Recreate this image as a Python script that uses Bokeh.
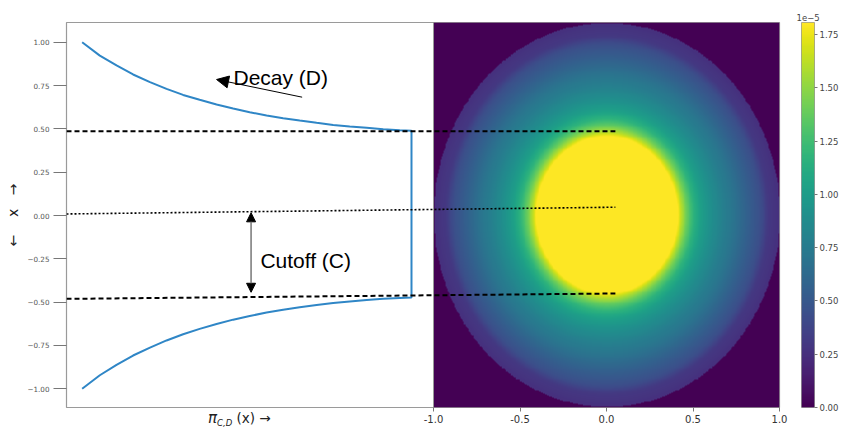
import numpy as np
from bokeh.plotting import figure
from bokeh.models import (Range1d, LinearAxis, FixedTicker, Label, Arrow,
                          NormalHead, LinearColorMapper, Div)
from bokeh.palettes import Viridis256
from bokeh.layouts import row
from bokeh.embed import file_html
from bokeh.resources import INLINE

# ---------------- data ----------------
# left panel: pi_{C,D}(x) curve (horizontal = pi value, relative; vertical = x)
curve_pi = [0.0454, 0.0966, 0.145, 0.193, 0.242, 0.290, 0.338, 0.386, 0.435, 0.483, 0.531,
            0.580, 0.628, 0.676, 0.725, 0.773, 0.821, 0.870, 0.918, 0.966, 1.0]
curve_x_upper = [1.0, 0.923, 0.866, 0.814, 0.770, 0.731, 0.696, 0.668, 0.641, 0.618, 0.596,
                 0.577, 0.562, 0.548, 0.535, 0.523, 0.514, 0.506, 0.498, 0.492, 0.489]
curve_x_lower = [-1.0, -0.922, -0.862, -0.808, -0.762, -0.721, -0.685, -0.654, -0.626, -0.601,
                 -0.580, -0.560, -0.544, -0.530, -0.517, -0.505, -0.496, -0.488, -0.481,
                 -0.476, -0.473]

y_ticks = [-1.0, -0.75, -0.5, -0.25, 0.0, 0.25, 0.5, 0.75, 1.0]
y_tick_labels = ["\u22121.00", "\u22120.75", "\u22120.50", "\u22120.25", "0.00",
                 "0.25", "0.50", "0.75", "1.00"]

# guide lines (pi units, x units)
guide_pi = [0.0, 1.591]
cut_upper_y = [0.487, 0.487]
center_y = [0.009, 0.048]
cut_lower_y = [-0.481, -0.450]

# heatmap: radial profile (r, value in 1e-5)
profile_r = [0.0, 0.41, 0.43, 0.46, 0.50, 0.54, 0.58, 0.66, 0.735, 0.81, 0.89, 0.93, 1.0]
profile_v = [1.807, 1.807, 1.62, 1.40, 1.17, 1.03, 0.94, 0.80, 0.69, 0.56, 0.43, 0.30, 0.25]
heat_ticks = [-1.0, -0.5, 0.0, 0.5, 1.0]
heat_tick_labels = ["-1.0", "-0.5", "0.0", "0.5", "1.0"]

cbar_max = 1.807
cbar_ticks = [0.0, 0.25, 0.5, 0.75, 1.0, 1.25, 1.5, 1.75]
cbar_tick_labels = ["0.00", "0.25", "0.50", "0.75", "1.00", "1.25", "1.50", "1.75"]

# ---------------- main figure ----------------
p = figure(width=790, height=430, output_backend="svg", toolbar_location=None,
           x_range=Range1d(0, 2.0667), y_range=Range1d(-1.108, 1.114),
           x_axis_type=None, y_axis_type=None,
           min_border_left=66, min_border_right=11, min_border_top=22, min_border_bottom=23)
p.extra_x_ranges = {"heat": Range1d(-3.1214, 1.0)}
p.extra_y_ranges = {"heat_y": Range1d(-1.0, 1.0)}
p.grid.visible = False
p.outline_line_color = "#9a9a9a"
p.outline_line_width = 1.2
p.background_fill_color = "white"
p.border_fill_color = "white"

mapper = LinearColorMapper(palette=Viridis256, low=0.0, high=cbar_max)

# heatmap image
n = 420
gx = np.linspace(-1, 1, n)
GX, GY = np.meshgrid(gx, gx)
R = np.sqrt(GX ** 2 + GY ** 2)
Z = np.interp(R, profile_r, profile_v)
Z[R > 1.0] = 0.0
p.image(image=[Z], x=-1, y=-1, dw=2, dh=2, color_mapper=mapper,
        x_range_name="heat", y_range_name="heat_y")
p.segment(x0=[-1], y0=[-1], x1=[-1], y1=[1], line_color="#9a9a9a", line_width=1,
          x_range_name="heat", y_range_name="heat_y")

# curve
xs = curve_pi + curve_pi[::-1]
ys = curve_x_upper + curve_x_lower[::-1]
p.line(xs, ys, line_color="#2f86c6", line_width=2)

# guide lines
p.line(guide_pi, cut_upper_y, line_color="black", line_width=2, line_dash="5 3")
p.line(guide_pi, cut_lower_y, line_color="black", line_width=2, line_dash="5 3")
p.line(guide_pi, center_y, line_color="black", line_width=1.6, line_dash="2 2")

# annotations
p.add_layout(Arrow(end=NormalHead(size=12, fill_color="black", line_color="black"),
                   x_start=0.683, y_start=0.683, x_end=0.435, y_end=0.785,
                   line_color="black", line_width=1))
p.add_layout(Arrow(start=NormalHead(size=9, fill_color="black", line_color="black"),
                   end=NormalHead(size=9, fill_color="black", line_color="black"),
                   x_start=0.535, y_start=-0.443, x_end=0.535, y_end=0.0156,
                   line_color="#777777", line_width=1.5))
p.add_layout(Label(x=0.484, y=0.798, text="Decay (D)", text_font="Liberation Sans",
                   text_font_size="21px", text_color="black", text_baseline="alphabetic"))
p.add_layout(Label(x=0.562, y=-0.260, text="Cutoff (C)", text_font="Liberation Sans",
                   text_font_size="21px", text_color="black", text_baseline="alphabetic"))

# left axis
yax = LinearAxis(ticker=FixedTicker(ticks=y_ticks),
                 major_label_overrides={t: l for t, l in zip(y_ticks, y_tick_labels)})
yax.axis_label = "\u2190\u00a0\u00a0\u00a0\u00a0x\u00a0\u00a0\u00a0\u2192"
yax.axis_label_text_font = "DejaVu Sans"
yax.axis_label_text_font_style = "normal"
yax.axis_label_text_font_size = "14px"
yax.axis_label_text_color = "#222222"
yax.axis_label_standoff = 3
yax.major_label_text_font = "DejaVu Sans"
yax.major_label_text_font_size = "7.2px"
yax.major_label_text_color = "#555555"
yax.major_label_standoff = 4
yax.major_tick_out = 13
yax.major_tick_in = 0
yax.major_tick_line_color = "#777777"
yax.minor_tick_line_color = None
yax.axis_line_color = None
p.add_layout(yax, "left")

# bottom axis of heatmap
xax = LinearAxis(x_range_name="heat", ticker=FixedTicker(ticks=heat_ticks),
                 major_label_overrides={t: l for t, l in zip(heat_ticks, heat_tick_labels)})
xax.bounds = (-1.0, 1.0)
xax.major_label_text_font = "DejaVu Sans"
xax.major_label_text_font_size = "10px"
xax.major_label_text_color = "#333333"
xax.major_label_standoff = 3
xax.major_tick_out = 4
xax.major_tick_in = 0
xax.major_tick_line_color = "#777777"
xax.minor_tick_line_color = None
xax.axis_line_color = None
p.add_layout(xax, "below")

# ---------------- colorbar figure ----------------
cb = figure(width=51, height=430, output_backend="svg", toolbar_location=None,
            x_range=Range1d(0, 1), y_range=Range1d(0, cbar_max),
            x_axis_type=None, y_axis_type=None,
            min_border_left=11, min_border_right=23, min_border_top=20, min_border_bottom=21)
cb.grid.visible = False
cb.outline_line_color = "#9a9a9a"
cbar_vals = np.linspace(0, cbar_max, 300).reshape(-1, 1)
cb.image(image=[cbar_vals], x=0, y=0, dw=1, dh=cbar_max, color_mapper=mapper)
cax = LinearAxis(ticker=FixedTicker(ticks=cbar_ticks),
                 major_label_overrides={t: l for t, l in zip(cbar_ticks, cbar_tick_labels)})
cax.major_label_text_font = "DejaVu Sans"
cax.major_label_text_font_size = "8.5px"
cax.major_label_text_color = "#444444"
cax.major_label_standoff = 2
cax.major_tick_out = 3
cax.major_tick_in = 0
cax.major_tick_line_color = "#777777"
cax.minor_tick_line_color = None
cax.axis_line_color = None
cb.add_layout(cax, "right")
cb.title.text = "1e\u22125"
cb.title.text_font = "DejaVu Sans"
cb.title.text_font_size = "8.5px"
cb.title.text_font_style = "normal"
cb.title.text_color = "#444444"
cb.title.align = "left"
cb.title.offset = -5
cb.title.standoff = 4

# x label of the left panel (rich text with subscript)
pi_label = Div(
    text=('<span style="font-family:\'DejaVu Sans\'; font-size:13.5px; color:#222222; '
          'white-space:nowrap; line-height:16px;">'
          '<i style="font-size:15px;">\u03c0</i>'
          '<i style="font-size:8.5px; vertical-align:-3px; line-height:0;">C,D</i>'
          '&nbsp;(x)&nbsp;\u2192</span>'),
    margin=0,
    styles={"position": "absolute", "left": "208px", "top": "410px", "z-index": "5"})

layout = row(p, cb, pi_label)
open("out.html", "w").write(file_html(layout, INLINE))
